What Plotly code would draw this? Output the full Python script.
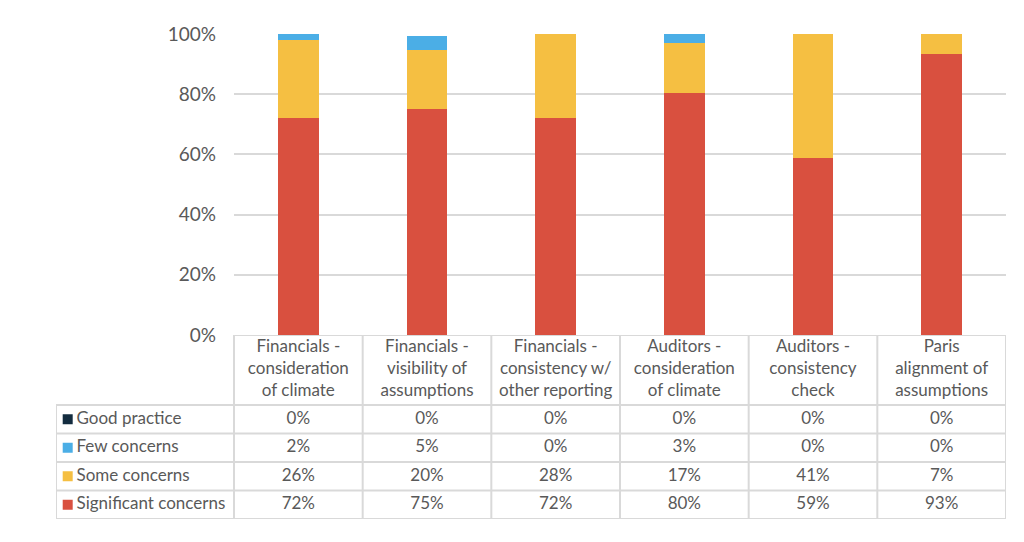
import plotly.graph_objects as go

categories = [
    "Financials -<br>consideration<br>of climate",
    "Financials -<br>visibility of<br>assumptions",
    "Financials -<br>consistency w/<br>other reporting",
    "Auditors -<br>consideration<br>of climate",
    "Auditors -<br>consistency<br>check",
    "Paris<br>alignment of<br>assumptions",
]
series_names = ["Good practice", "Few concerns", "Some concerns", "Significant concerns"]
good_practice = [0, 0, 0, 0, 0, 0]
few_concerns = [1.9, 4.9, 0, 2.9, 0, 0]
some_concerns = [26.1, 19.6, 28, 16.8, 41.3, 6.6]
significant_concerns = [72, 75, 72, 80.3, 58.7, 93.4]
y_ticks = [0, 20, 40, 60, 80, 100]

colors = {
    "Good practice": "#132C3F",
    "Few concerns": "#4BAEE6",
    "Some concerns": "#F5BF42",
    "Significant concerns": "#D9503F",
}
values = {
    "Good practice": good_practice,
    "Few concerns": few_concerns,
    "Some concerns": some_concerns,
    "Significant concerns": significant_concerns,
}

FONT = "Lato"
TXT = "#595959"
GRID = "#D9D9D9"
TABLE_FS = 17

W, H = 1024, 542
# pixel geometry of the reference
px_table_left, px_plot_left, px_plot_right = 56, 234, 1006
px_top, px_zero, px_table_bottom = 34, 335, 519
header_h = 70

n = len(categories)
col_px = (px_plot_right - px_plot_left) / n
label_units = (px_plot_left - px_table_left) / col_px   # width of label column in category units
table_h = px_table_bottom - px_zero
row_h = (table_h - header_h) / len(series_names)

fig = go.Figure()

# stacked bars, bottom to top
for name in ["Significant concerns", "Some concerns", "Few concerns", "Good practice"]:
    fig.add_trace(go.Bar(
        x=list(range(n)),
        y=values[name],
        name=name,
        marker=dict(color=colors[name], line=dict(width=0)),
        showlegend=False,
        hoverinfo="y+name",
    ))

# ---- data table on its own axes (x2 = category units, y2 = pixel rows) ----
row_order = ["Good practice", "Few concerns", "Some concerns", "Significant concerns"]
header_y = table_h - header_h / 2
row_y = [table_h - header_h - row_h * (k + 0.5) for k in range(len(row_order))]

# header texts
fig.add_trace(go.Scatter(
    x=list(range(n)), y=[header_y] * n, text=categories,
    mode="text", textposition="middle center",
    textfont=dict(family=FONT, size=TABLE_FS, color=TXT),
    xaxis="x2", yaxis="y2", showlegend=False, hoverinfo="skip", cliponaxis=False,
))
# cell values
for k, name in enumerate(row_order):
    fig.add_trace(go.Scatter(
        x=list(range(n)), y=[row_y[k]] * n,
        text=[f"{round(v)}%" for v in values[name]],
        mode="text", textposition="middle center",
        textfont=dict(family=FONT, size=TABLE_FS, color=TXT),
        xaxis="x2", yaxis="y2", showlegend=False, hoverinfo="skip", cliponaxis=False,
    ))
# legend keys
left_edge = -0.5 - label_units
fig.add_trace(go.Scatter(
    x=[left_edge + 11.7 / col_px] * len(row_order), y=row_y,
    mode="markers",
    marker=dict(symbol="square", size=10, color=[colors[r] for r in row_order], line=dict(width=0)),
    xaxis="x2", yaxis="y2", showlegend=False, hoverinfo="skip", cliponaxis=False,
))
fig.add_trace(go.Scatter(
    x=[left_edge + 20.5 / col_px] * len(row_order), y=row_y, text=row_order,
    mode="text", textposition="middle right",
    textfont=dict(family=FONT, size=TABLE_FS, color=TXT),
    xaxis="x2", yaxis="y2", showlegend=False, hoverinfo="skip", cliponaxis=False,
))

# table grid lines
line = dict(color=GRID, width=2)
shapes = []
for k in range(n + 1):
    shapes.append(dict(type="line", xref="x2", yref="y2", x0=-0.5 + k, x1=-0.5 + k,
                       y0=0, y1=table_h, line=line, layer="below"))
shapes.append(dict(type="line", xref="x2", yref="y2", x0=left_edge, x1=left_edge,
                   y0=0, y1=table_h - header_h, line=line, layer="below"))
shapes.append(dict(type="line", xref="x2", yref="y2", x0=-0.5, x1=n - 0.5,
                   y0=table_h, y1=table_h, line=line, layer="below"))
for k in range(len(row_order) + 1):
    yy = table_h - header_h - row_h * k
    shapes.append(dict(type="line", xref="x2", yref="y2", x0=left_edge, x1=n - 0.5,
                       y0=yy, y1=yy, line=line, layer="below"))

fig.update_layout(
    width=W, height=H,
    margin=dict(l=0, r=0, t=0, b=0, autoexpand=False),
    barmode="stack",
    bargap=0.685,
    plot_bgcolor="white",
    paper_bgcolor="white",
    font=dict(family=FONT, color=TXT),
    shapes=shapes,
    xaxis=dict(
        domain=[px_plot_left / W, px_plot_right / W],
        range=[-0.5, n - 0.5],
        showticklabels=False, showgrid=False, zeroline=False, ticks="", automargin=False,
    ),
    yaxis=dict(
        domain=[1 - px_zero / H, 1 - px_top / H],
        range=[0, 100],
        tickvals=y_ticks,
        ticktext=[f"{v}%" for v in y_ticks],
        tickfont=dict(family=FONT, size=19, color=TXT),
        gridcolor=GRID, gridwidth=2,
        zeroline=False, showline=False, ticks="",
        ticklabelstandoff=17, automargin=False,
    ),
    xaxis2=dict(
        domain=[px_table_left / W, px_plot_right / W],
        range=[left_edge, n - 0.5],
        anchor="y2",
        visible=False, automargin=False,
    ),
    yaxis2=dict(
        domain=[1 - px_table_bottom / H, 1 - px_zero / H],
        range=[0, table_h],
        anchor="x2",
        visible=False, automargin=False,
    ),
)

fig.write_html("out.html", config={"displayModeBar": False},
               post_script="document.body.style.margin='0px';")
